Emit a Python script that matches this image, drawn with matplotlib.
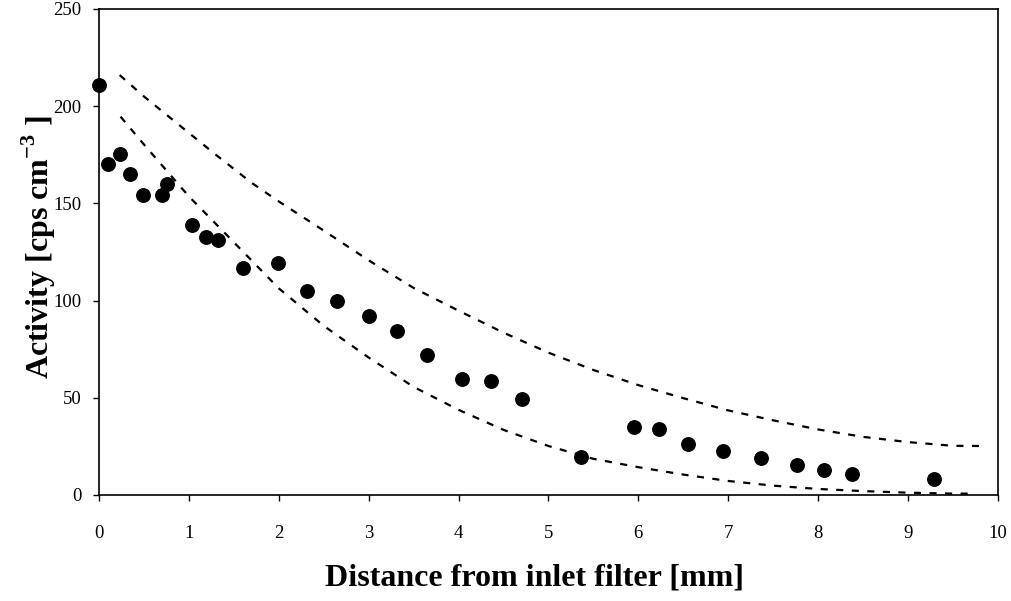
import matplotlib
matplotlib.use("Agg")
import matplotlib.pyplot as plt

plt.rcParams['font.family'] = ['Liberation Serif', 'DejaVu Serif']
plt.rcParams['mathtext.fontset'] = 'custom'
plt.rcParams['mathtext.rm'] = 'Liberation Serif'
plt.rcParams['mathtext.bf'] = 'Liberation Serif:bold'

# measured activity
dist = [0.0, 0.10, 0.23, 0.35, 0.49, 0.70, 0.76, 1.03, 1.19, 1.32,
        1.60, 1.99, 2.31, 2.65, 3.00, 3.31, 3.65, 4.04, 4.36, 4.71,
        5.36, 5.95, 6.23, 6.55, 6.94, 7.36, 7.77, 8.07, 8.38, 9.29]
activity = [211, 170, 175.5, 165, 154.5, 154.5, 160, 139, 132.5, 131,
            116.5, 119.5, 105, 100, 92, 84.5, 72, 59.5, 58.5, 49.5,
            19.5, 35, 34, 26, 22.5, 19, 15.5, 13, 11, 8]

# upper bound curve
up_x = [0.23, 0.5, 0.9, 1.3, 1.7, 2.0, 2.5, 3.0, 3.5, 4.0, 4.5,
        5.0, 5.5, 6.0, 6.5, 7.0, 7.5, 8.0, 8.5, 9.0, 9.5, 9.8]
up_y = [216, 205, 190, 175, 160.5, 151, 136, 120.7, 106.5, 94.8, 83.5,
        73.2, 64.3, 56.5, 49.8, 43.5, 38.4, 33.7, 29.9, 27.2, 25.3, 25.2]

# lower bound curve
lo_x = [0.24, 0.5, 1.0, 1.5, 2.0, 2.5, 3.0, 3.5, 4.0, 4.5, 5.0,
        5.5, 6.0, 6.5, 7.0, 7.5, 8.0, 8.5, 9.0, 9.5, 9.7]
lo_y = [194.6, 180.3, 153.6, 130.0, 106.3, 87.0, 70.7, 55.6, 43.8, 33.5, 25.2,
        18.6, 14.3, 10.5, 7.2, 4.8, 3.1, 2.0, 1.2, 0.7, 0.7]

fig = plt.figure(figsize=(10.12, 6.01), dpi=100)
ax = fig.add_axes([0.0978, 0.1764, 0.8883, 0.8087])

dash = (0, (3.2, 3.8))
ax.plot(up_x, up_y, color='black', lw=1.6, linestyle=dash)
ax.plot(lo_x, lo_y, color='black', lw=1.6, linestyle=dash)
ax.plot(dist, activity, 'o', color='black', ms=9.7, clip_on=False, zorder=3)

ax.set_xlim(0, 10)
ax.set_ylim(0, 250)
ax.set_xticks(range(0, 11))
ax.set_yticks(range(0, 251, 50))

for s in ax.spines.values():
    s.set_linewidth(1.2)
ax.tick_params(axis='both', direction='out', length=4.5, width=1.0, labelsize=13.5)
ax.tick_params(axis='x', pad=17)
ax.tick_params(axis='y', pad=8)

ax.set_xlabel('Distance from inlet filter [mm]', fontsize=23, fontweight='bold')
ax.set_ylabel(r'Activity [cps cm$^{\mathbf{-3}}$ ]', fontsize=23, fontweight='bold')
ax.xaxis.set_label_coords(0.485, -0.14)
ax.yaxis.set_label_coords(-0.046, 0.51)

fig.savefig('out.png', dpi=100)
